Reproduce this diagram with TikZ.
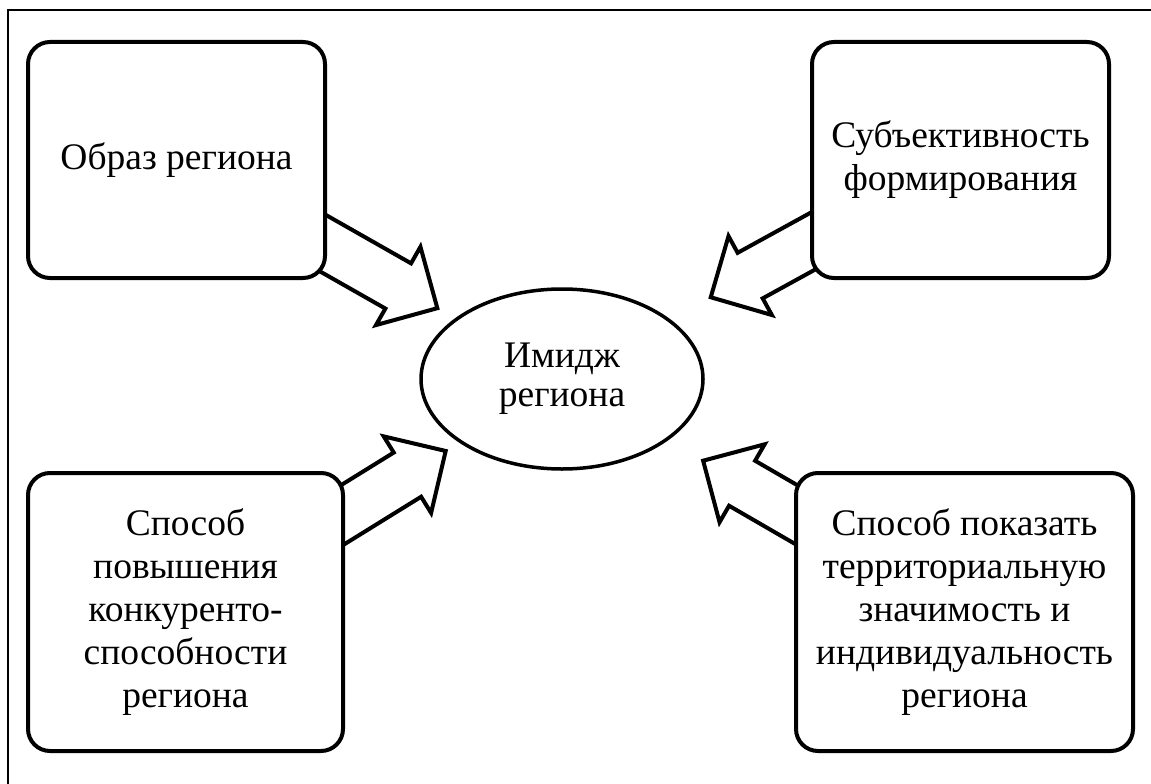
\documentclass[tikz,border=0pt]{standalone}
\usepackage{fontspec}
\setmainfont{Liberation Serif}
\usetikzlibrary{calc,backgrounds,shapes.geometric}

\newcommand\boxfont{\fontsize{37.5}{43}\selectfont}
\newcommand\corefont{\fontsize{37.5}{39}\selectfont}
\tikzset{
  frame/.style={line width=1.3pt},
  box/.style={draw, line width=4pt, rounded corners=22pt, fill=white, align=center, font=\boxfont, inner sep=0pt},
  core/.style={draw, ellipse, line width=3.5pt, fill=white, align=center, font=\corefont, inner sep=0pt},
  blockline/.style={line width=4pt, draw, fill=white, line join=miter},
}
% block arrow from the centre of box #1 towards node #2, tip at distance #3
\newcommand\blockarrow[3]{%
  \coordinate (#1-tip) at ($(#1.center)!#3!(#2.center)$);
  \coordinate (#1-neck) at ($(#1-tip)!45pt!(#1.center)$);
  \draw[blockline] ($(#1.center)!26pt!90:(#2.center)$) -- ($(#1-neck)!26pt!90:(#2.center)$)
    -- ($(#1-neck)!45pt!90:(#2.center)$) -- (#1-tip) -- ($(#1-neck)!45pt!-90:(#2.center)$)
    -- ($(#1-neck)!26pt!-90:(#2.center)$) -- ($(#1.center)!26pt!-90:(#2.center)$) -- cycle;
}

\begin{document}
\begin{tikzpicture}[x=1pt,y=-1pt]
  \useasboundingbox (0,0) rectangle (1151,784);
  \draw[frame] (8,800) -- (8,10) -- (1165,10);

  \node[core, minimum width=282, minimum height=180] (img) at (562,379) {Имидж\\региона};

  \node[box, minimum width=297, minimum height=236] (tl) at (176.5,160) {Образ региона};
  \node[box, minimum width=297, minimum height=236] (tr) at (960.5,160) {Субъективность\\формирования};
  \node[box, minimum width=315, minimum height=278] (bl) at (185.5,612) {Способ\\повышения\\конкуренто-\\способности\\региона};
  \node[box, minimum width=337, minimum height=278] (br) at (964.5,612) {Способ показать\\территориальную\\значимость и\\индивидуальность\\региона};

  \begin{scope}[on background layer]
    \blockarrow{tl}{img}{300pt}
    \blockarrow{tr}{img}{285pt}
    \blockarrow{bl}{img}{306pt}
    \blockarrow{br}{img}{302pt}
  \end{scope}
\end{tikzpicture}
\end{document}
